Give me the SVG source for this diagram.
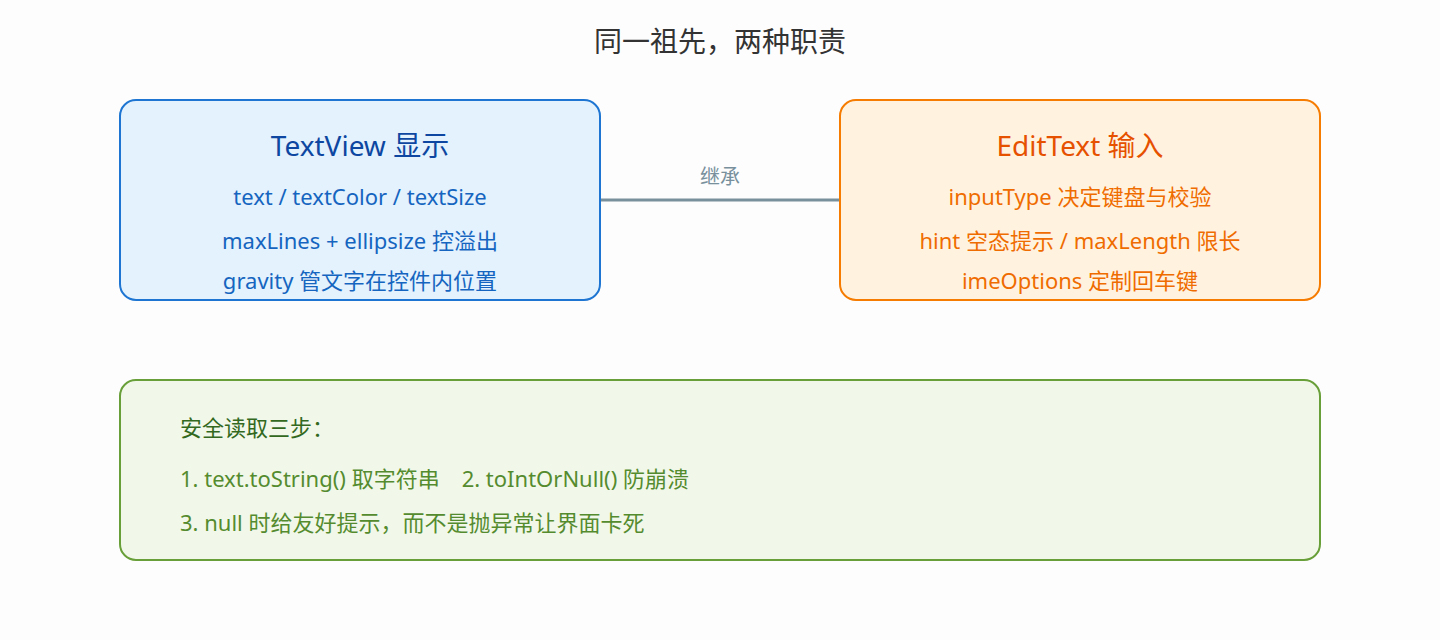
<svg xmlns="http://www.w3.org/2000/svg" width="1440" height="640" viewBox="0 0 1440 640">
<style>
text{font-family:"Noto Sans","Noto Sans CJK SC",sans-serif}
.t{font-size:28px;text-anchor:middle}
.l{font-size:22px;text-anchor:middle}
.g{font-size:22px}
</style>
<rect width="1440" height="640" fill="#fdfdfd"/>
<text x="720" y="52" class="t" fill="#333">同一祖先，两种职责</text>
<g id="conn">
<line x1="600" y1="200" x2="840" y2="200" stroke="#78909c" stroke-width="3"/>
<text x="720" y="184" font-size="20" text-anchor="middle" fill="#78909c">继承</text>
</g>
<g id="textview">
<rect x="120" y="100" width="480" height="200" rx="16" fill="#e3f2fd" stroke="#1e76d2" stroke-width="2"/>
<text x="360" y="156" class="t" fill="#0d47a1">TextView 显示</text>
<text x="360" y="205" class="l" fill="#1565c0">text / textColor / textSize</text>
<text x="360" y="249" class="l" fill="#1565c0">maxLines + ellipsize 控溢出</text>
<text x="360" y="289" class="l" fill="#1565c0">gravity 管文字在控件内位置</text>
</g>
<g id="edittext">
<rect x="840" y="100" width="480" height="200" rx="16" fill="#fff3e0" stroke="#f57c00" stroke-width="2"/>
<text x="1080" y="156" class="t" fill="#e65100">EditText 输入</text>
<text x="1080" y="205" class="l" fill="#ef6c00">inputType 决定键盘与校验</text>
<text x="1080" y="249" class="l" fill="#ef6c00">hint 空态提示 / maxLength 限长</text>
<text x="1080" y="289" class="l" fill="#ef6c00">imeOptions 定制回车键</text>
</g>
<g id="safe">
<rect x="120" y="380" width="1200" height="180" rx="16" fill="#f1f8e9" stroke="#689f38" stroke-width="2"/>
<text x="180" y="436" class="g" fill="#33691e">安全读取三步：</text>
<text x="180" y="487" class="g" fill="#558b2f">1. text.toString() 取字符串　2. toIntOrNull() 防崩溃</text>
<text x="180" y="531" class="g" fill="#558b2f">3. null 时给友好提示，而不是抛异常让界面卡死</text>
</g>
</svg>
